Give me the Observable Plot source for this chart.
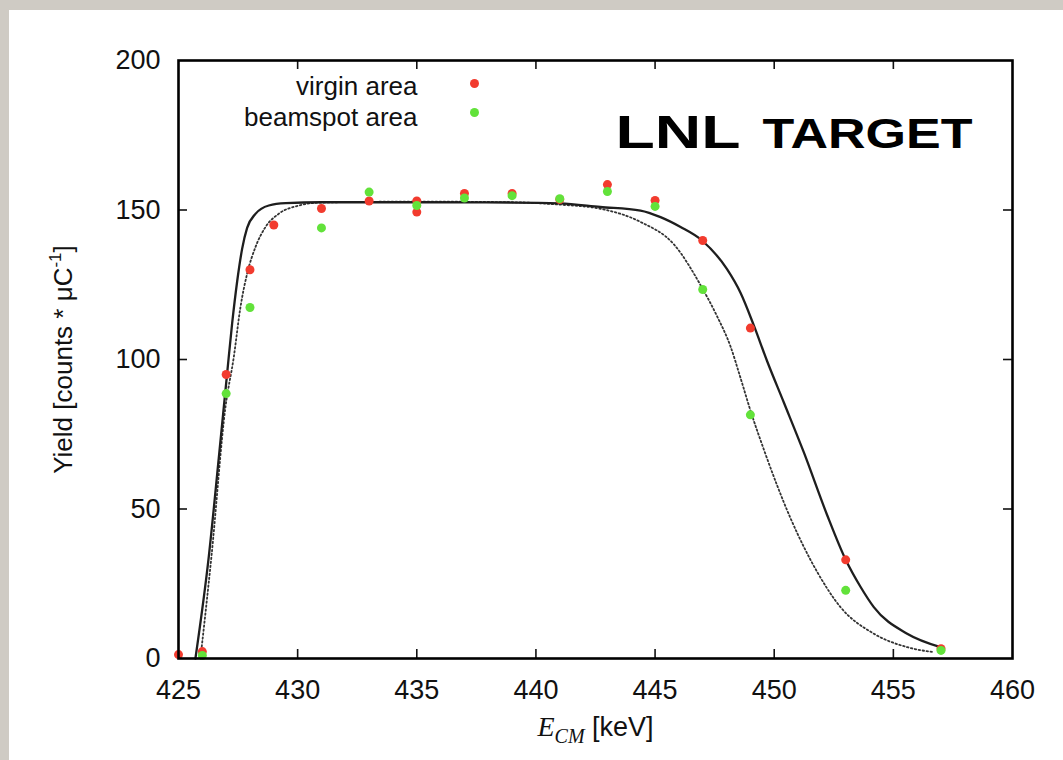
<!DOCTYPE html>
<html><head><meta charset="utf-8">
<script src="https://cdn.jsdelivr.net/npm/d3@7"></script>
<script src="https://cdn.jsdelivr.net/npm/@observablehq/plot@0.6"></script>
<style>
html,body{margin:0;padding:0;background:#cfcbc4;width:1063px;height:760px;overflow:hidden}
#panel{position:absolute;left:9px;top:10px;width:1054px;height:750px;background:#fff}
#panel svg{display:block}
</style></head><body><div id="panel"></div>
<script>
// ---- data ----
const xTicks = [425, 430, 435, 440, 445, 450, 455, 460];
const yTicks = [0, 50, 100, 150, 200];
const seriesNames = ["virgin area", "beamspot area"];
const seriesColors = ["#f23b2e", "#62e23a"];

const virginE = [425, 426, 427, 428, 429, 431, 433, 435, 435, 437, 439, 441, 443, 445, 447, 449, 453, 457];
const virginY = [1.3, 2.3, 95, 130, 145, 150.5, 153, 153, 149.3, 155.5, 155.5, 153.5, 158.5, 153.2, 139.8, 110.5, 33, 3.3];

const beamE = [426, 427, 428, 431, 433, 435, 437, 439, 441, 443, 445, 447, 449, 453, 457];
const beamY = [1, 88.6, 117.4, 144, 156, 151.5, 154, 154.8, 153.8, 156.2, 151.2, 123.4, 81.5, 22.8, 2.7];

const virginFitE = [425.71, 426.27, 426.69, 427.04, 427.25, 427.46, 427.67, 427.88, 428.23, 428.79, 429.5, 431, 435, 439, 441, 442.7, 444.39, 445.23, 446.07, 446.97, 448.02, 448.58, 449.14, 449.7, 450.4, 451.24, 452.22, 452.99, 453.62, 454.18, 455.58, 456.98];
const virginFitY = [0, 34, 67, 95.3, 112, 126, 137, 144, 148.7, 151.5, 152.3, 152.6, 152.6, 152.5, 152.2, 151, 149.8, 147.6, 144.3, 139.8, 130.2, 122.4, 111.5, 99.5, 85.7, 69, 48, 33.2, 24, 17.2, 8.3, 3.8];

const beamFitE = [425.92, 426.38, 426.97, 427.32, 427.6, 427.88, 428.23, 428.65, 429.2, 430.05, 431, 435, 439, 441, 442.71, 444.39, 445.79, 446.97, 447.6, 448.16, 448.58, 449.0, 449.56, 450.68, 451.8, 452.78, 454.18, 455.58, 456.7];
const beamFitY = [0, 33.9, 84, 100.8, 117.5, 128.7, 137.6, 144.3, 148.7, 151.5, 152.5, 152.8, 152.6, 151.8, 150.4, 146, 138.5, 124, 114.5, 104.5, 94, 83, 70, 47, 29, 17.2, 8.3, 3.8, 2.1];

const xLabelParts = ["E", "CM", " [keV]"];
const yLabelParts = ["Yield [counts * \u03bcC", "-1", "]"];
const annotationParts = ["LNL", "TARGET"];

// ---- build ----
const W = 1054, H = 750;
const mL = 169, mR = 51, mT = 50, mB = 102;
const innerW = W - mL - mR, innerH = H - mT - mB;
const tickLen = 9;

const virgin = virginE.map((e, i) => ({e, y: virginY[i]}));
const beam = beamE.map((e, i) => ({e, y: beamY[i]}));
const virginFit = virginFitE.map((e, i) => ({e, y: virginFitY[i]}));
const beamFit = beamFitE.map((e, i) => ({e, y: beamFitY[i]}));

const legendTextDy = [26, 57];
const legendDotDy = [23, 52];

const legendMarks = [];
seriesNames.forEach((name, i) => {
  legendMarks.push(Plot.text([name], {frameAnchor: "top-left", dx: 239, dy: legendTextDy[i], textAnchor: "end", lineAnchor: "middle", text: d => d, fontSize: 26, fill: "#111"}));
  legendMarks.push(Plot.dot([name], {frameAnchor: "top-left", dx: 296, dy: legendDotDy[i], r: 4.5, fill: seriesColors[i], stroke: "none"}));
});

const chart = Plot.plot({
  width: W, height: H,
  marginLeft: mL, marginRight: mR, marginTop: mT, marginBottom: mB,
  style: {fontFamily: "'Liberation Sans', Arial, sans-serif", fontSize: "27px", color: "#111", background: "white", overflow: "visible"},
  x: {domain: [425, 460]},
  y: {domain: [0, 200]},
  marks: [
    Plot.line(beamFit, {x: "e", y: "y", curve: "monotone-x", stroke: "#333", strokeWidth: 1.8, strokeDasharray: "1.5,2.5"}),
    Plot.line(virginFit, {x: "e", y: "y", curve: "monotone-x", stroke: "#1e1e1e", strokeWidth: 2.3}),
    Plot.dot(virgin, {x: "e", y: "y", r: 4.5, fill: seriesColors[0], stroke: "none"}),
    Plot.dot(beam, {x: "e", y: "y", r: 4.5, fill: seriesColors[1], stroke: "none"}),
    Plot.tickX(xTicks.slice(1, -1), {x: d => d, insetTop: innerH - tickLen, stroke: "#111", strokeWidth: 1.6}),
    Plot.tickX(xTicks.slice(1, -1), {x: d => d, insetBottom: innerH - tickLen, stroke: "#111", strokeWidth: 1.6}),
    Plot.tickY(yTicks.slice(1, -1), {y: d => d, insetRight: innerW - tickLen, stroke: "#111", strokeWidth: 1.6}),
    Plot.tickY(yTicks.slice(1, -1), {y: d => d, insetLeft: innerW - tickLen, stroke: "#111", strokeWidth: 1.6}),
    Plot.frame({stroke: "#000", strokeWidth: 2.6}),
    Plot.axisX({ticks: xTicks, tickSize: 0, tickPadding: 21, label: null, fontSize: 27}),
    Plot.axisY({ticks: yTicks, tickSize: 0, tickPadding: 18, label: null, fontSize: 27}),
    Plot.text([xLabelParts.join("")], {frameAnchor: "bottom", lineAnchor: "middle", dy: 69, text: d => d, fontSize: 27}),
    Plot.text([yLabelParts.join("")], {frameAnchor: "left", textAnchor: "middle", lineAnchor: "middle", rotate: -90, dx: -115, text: d => d, fontSize: 26}),
    Plot.text([annotationParts.join(" ")], {frameAnchor: "top-right", dx: -40, dy: 87, textAnchor: "end", text: d => d, fontWeight: "bold", fontSize: 46, fill: "#000"}),
    ...legendMarks
  ]
});

document.getElementById("panel").appendChild(chart);

// ---- rich text formatting ----
const svg = d3.select(chart.tagName.toLowerCase() === "svg" ? chart : chart.querySelector("svg"));
function findText(str) {
  return svg.selectAll("text").filter(function() { return this.textContent === str; });
}
// x label
{
  const t = findText(xLabelParts.join(""));
  t.text(null);
  t.append("tspan").attr("font-family", "'Liberation Serif', 'Times New Roman', serif").attr("font-style", "italic").attr("font-size", 28).text(xLabelParts[0]);
  t.append("tspan").attr("font-family", "'Liberation Serif', 'Times New Roman', serif").attr("font-style", "italic").attr("font-size", 20).attr("dy", 7).text(xLabelParts[1]);
  t.append("tspan").attr("dy", -7).text(xLabelParts[2]);
}
// y label
{
  const t = findText(yLabelParts.join(""));
  t.text(null);
  t.append("tspan").text(yLabelParts[0]);
  t.append("tspan").attr("font-size", 17).attr("dy", -11).text(yLabelParts[1]);
  t.append("tspan").attr("dy", 11).text(yLabelParts[2]);
}
// annotation
{
  const t = findText(annotationParts.join(" "));
  t.text(null).attr("y", 0);
  t.append("tspan").attr("font-size", 46).attr("textLength", 125).attr("lengthAdjust", "spacingAndGlyphs").text(annotationParts[0]);
  t.append("tspan").attr("font-size", 42).attr("dx", 22).attr("textLength", 210).attr("lengthAdjust", "spacingAndGlyphs").text(annotationParts[1]);
}
</script>
</body></html>
